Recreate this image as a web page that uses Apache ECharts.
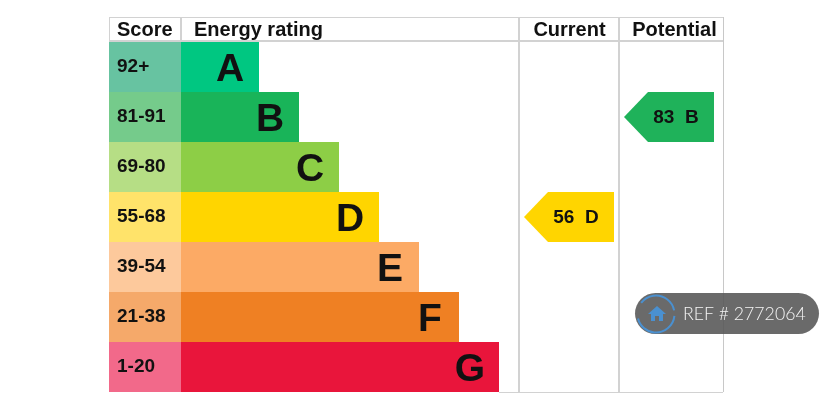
<!DOCTYPE html>
<html>
<head>
<meta charset="utf-8">
<style>html,body{margin:0;padding:0;background:#fff}#c{width:831px;height:407px}</style>
<script src="https://cdn.jsdelivr.net/npm/echarts@6/dist/echarts.min.js"></script>
</head>
<body>
<div id="c"></div>
<script>
const scoreBands = ['92+','81-91','69-80','55-68','39-54','21-38','1-20'];
const letters = ['A','B','C','D','E','F','G'];
const barLengths = [78,118,158,198,238,278,318];
const scoreColumn = [-72,-72,-72,-72,-72,-72,-72];
const barColors = ['#00c781','#19b459','#8dce46','#ffd500','#fcaa65','#ef8023','#e9153b'];
const scoreColors = ['#67c3a1','#75cb8b','#b6de85','#ffe36a','#fdc99c','#f5a96a','#f2698a'];
const arrowRows = [
  {name:'Current', tip:343, row:3, score:56, letter:'D', color:'#ffd500'},
  {name:'Potential', tip:443, row:1, score:83, letter:'B', color:'#1fb25a'}
];
const FONT = '"Liberation Sans", Arial, sans-serif';
const LINE = '#d2d2d2';
const hLine=(x1,y,x2,w,c)=>({type:'line',shape:{x1,y1:y,x2,y2:y},style:{stroke:c||LINE,lineWidth:w||1},z:1});
const vLine=(x,y1,y2,w,c)=>({type:'line',shape:{x1:x,y1,x2:x,y2},style:{stroke:c||LINE,lineWidth:w||1},z:1});
const head=(text,x,align)=>({type:'text',x,y:30,z:20,style:{text,x:0,y:0,align:align||'left',verticalAlign:'middle',font:'bold 20px '+FONT,fill:'#111'}});

const chart = echarts.init(document.getElementById('c'),null,{renderer:'canvas'});
chart.setOption({
  animation:false,
  backgroundColor:'#fff',
  grid:{left:109,top:42,width:614,height:350,containLabel:false},
  xAxis:{type:'value',min:-72,max:542,show:false},
  yAxis:{type:'category',data:scoreBands,inverse:true,z:10,
    axisLine:{show:false},axisTick:{show:false},splitLine:{show:false},
    axisLabel:{inside:true,margin:8,align:'left',verticalAlign:'middle',
      fontFamily:FONT,fontWeight:'bold',fontSize:19,color:'#111'}},
  series:[
    {type:'bar',name:'Score',data:scoreColumn.map((v,i)=>({value:v,itemStyle:{color:scoreColors[i]}})),
      barWidth:'100%',barGap:'-100%',silent:true},
    {type:'bar',name:'Rating',data:barLengths.map((v,i)=>({value:v,itemStyle:{color:barColors[i]},
        label:{formatter:letters[i]}})),
      barWidth:'100%',barGap:'-100%',silent:true,
      label:{show:true,position:'insideRight',distance:29,align:'center',offset:[0,3],
        fontFamily:FONT,fontWeight:'bold',fontSize:39,color:'#111'}},
    {type:'custom',name:'Arrows',coordinateSystem:'cartesian2d',
      data:arrowRows.map(a=>[a.tip,a.row,a.score,a.letter,a.color]),
      encode:{x:0,y:1},
      renderItem(params,api){
        const p=api.coord([api.value(0),api.value(1)]);
        const h=api.size([0,1])[1];
        const x=p[0], y=p[1], w=90, n=24;
        const label=api.value(2)+'  '+api.value(3);
        return {type:'group',children:[
          {type:'polygon',shape:{points:[[x,y],[x+n,y-h/2],[x+w,y-h/2],[x+w,y+h/2],[x+n,y+h/2]]},
            style:{fill:api.value(4)}},
          {type:'text',x:x+52,y:y+1,style:{text:label,align:'center',verticalAlign:'middle',
            font:'bold 19px '+FONT,fill:'#111'}}
        ]};
      }}
  ],
  graphic:{elements:[
    hLine(109,17.5,723,1),
    hLine(109,41,723,2),
    hLine(499,392.5,723,1),
    vLine(109.5,17,42,1),
    vLine(181,17,42,2),
    vLine(519,17,392,2),
    vLine(619,17,392,2),
    vLine(723.5,17,392,1,'#c8c8c8'),
    head('Score',117),
    head('Energy rating',194),
    head('Current',569.5,'center'),
    head('Potential',674.5,'center'),
    {type:'rect',z:30,shape:{x:635,y:293,width:184,height:41,r:20.5},style:{fill:'rgba(85,85,85,0.88)'}},
    {type:'arc',z:31,shape:{cx:656,cy:314,r:18.5,startAngle:-2.5,endAngle:-0.2},style:{stroke:'#4a90d0',lineWidth:2,fill:null}},
    {type:'arc',z:31,shape:{cx:656,cy:314,r:18.5,startAngle:0.1,endAngle:2.9},style:{stroke:'#4a90d0',lineWidth:2,fill:null}},
    {type:'polygon',z:31,shape:{points:[[648,314],[657,306],[666,314],[663,314],[663,321],[659,321],[659,316],[655,316],[655,321],[651,321],[651,314]]},style:{fill:'#4a90d0'}},
    {type:'text',z:31,x:683,y:314,style:{text:'REF # 2772064',x:0,y:0,verticalAlign:'middle',font:'300 17.7px Lato, "Open Sans", sans-serif',fill:'#f4f4f4'}}
  ]}
});
</script>
</body>
</html>
